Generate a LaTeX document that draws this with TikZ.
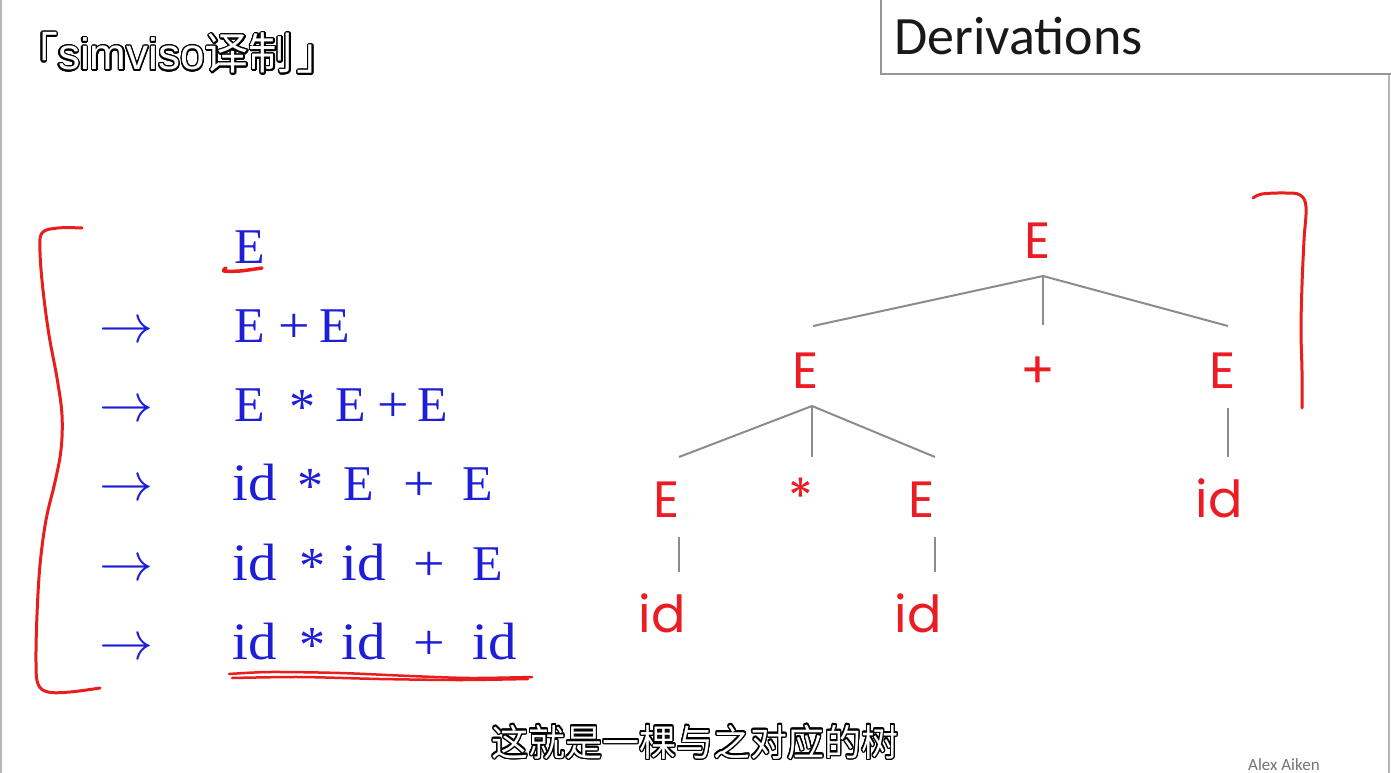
\documentclass[tikz,border=0pt]{standalone}
\usepackage{fontspec}
\usepackage{contour}
\usetikzlibrary{calc}
\setmainfont{Liberation Serif}
\newfontfamily\cjkfont{Noto Sans CJK SC}
\newfontfamily\latinsans{Liberation Sans}
\newfontfamily\treefont{Poppins}
\newfontfamily\slidefont{Carlito}
\definecolor{derivblue}{RGB}{30,30,215}
\definecolor{treered}{RGB}{237,28,36}
\definecolor{inkred}{RGB}{232,30,30}
\definecolor{edgegray}{RGB}{140,140,140}
\definecolor{framegray}{RGB}{150,150,150}
\contourlength{1.3pt}
\contournumber{24}
% a token that occupies a slot of fixed width
\newcommand\tok[2]{\makebox[#1pt][l]{#2}}
% centred multiplication asterisk
\newcommand\mulsym{\raisebox{-3pt}{\fontsize{52}{52}\selectfont *}}
% the identifier token, set slightly wide
\newcommand\idtok{\scalebox{1.14}[1.05]{id}}
\newcommand\plustok{\scalebox{1.12}[1]{+}}
% derivation arrow
\newcommand\derivarrow{\scalebox{5.4}{$\rightarrow$}}
\tikzset{
  rowtext/.style={anchor=base west, inner sep=0pt, text=derivblue,
    font=\fontsize{50}{50}\selectfont},
  arrowtok/.style={anchor=base west, inner sep=0pt, text=derivblue},
  treenode/.style={anchor=base, inner sep=0pt, text=treered,
    font=\treefont\fontsize{51}{51}\selectfont},
  treeedge/.style={draw=edgegray, line width=2pt},
  marker/.style={draw=inkred, line width=3pt, line cap=round, line join=round},
  outlined/.style={inner sep=0pt},
}
\begin{document}
\begin{tikzpicture}[x=1pt,y=-1pt]
\useasboundingbox (0,0) rectangle (1391,773);
\fill[white] (0,0) rectangle (1391,773);

% slide frame and heading box
\draw[framegray!70, line width=1.5pt] (1,0) -- (1,773);
\draw[framegray!70, line width=1.5pt] (1389,74) -- (1389,773);
\draw[framegray, line width=2pt] (881,0) -- (881,74) -- (1391,74);
\node[anchor=base west, inner sep=0pt, text=black!90,
  font=\slidefont\fontsize{54}{54}\selectfont] (heading) at (894,55) {Derivations};

% outlined title
\node[outlined, anchor=base west] (title) at (14,70)
  {\fontsize{44}{44}\selectfont\contour{black}{\color{white}{\cjkfont 「}{\latinsans simviso}{\cjkfont 译制\hspace{4pt}」}}};

% derivation sequence
\node[rowtext] (r1) at (234,263) {E};
\node[rowtext] (r2) at (234,342) {\tok{44}{E}\tok{41}{\plustok}E};
\node[rowtext] (r3) at (234,421) {\tok{55}{E}\tok{46}{\mulsym}\tok{42}{E}\tok{40}{\plustok}E};
\node[rowtext] (r4) at (232,500) {\tok{65}{\idtok}\tok{46}{\mulsym}\tok{60}{E}\tok{59}{\plustok}E};
\node[rowtext] (r5) at (232,580) {\tok{67}{\idtok}\tok{42}{\mulsym}\tok{72}{\idtok}\tok{59}{\plustok}E};
\node[rowtext] (r6) at (232,659) {\tok{67}{\idtok}\tok{42}{\mulsym}\tok{72}{\idtok}\tok{59}{\plustok}\idtok};

\node[arrowtok] (a2) at (99,342) {\derivarrow};
\node[arrowtok] (a3) at (99,421) {\derivarrow};
\node[arrowtok] (a4) at (99,500) {\derivarrow};
\node[arrowtok] (a5) at (99,580) {\derivarrow};
\node[arrowtok] (a6) at (99,659) {\derivarrow};

% hand-drawn marks
\draw[marker] plot[smooth, tension=0.6] coordinates {(82,228) (58,228) (42,233) (40,252) (43,290) (49,335) (57,378) (62,415) (61,450) (55,482) (46,520) (40,565) (37,615) (36,662) (38,684) (48,692) (70,692) (100,688)};
\draw[marker] plot[smooth, tension=0.6] coordinates {(1253,198) (1262,194) (1285,193) (1300,195) (1306,207) (1304,240) (1302,285) (1301,330) (1302,372) (1302,408)};
\draw[marker, line width=3.5pt] plot[smooth] coordinates {(226,268) (224,271) (240,271) (262,268)};
\draw[marker, line width=2.5pt] plot[smooth] coordinates {(229,674) (270,672) (340,673) (410,676) (470,678) (532,677)};
\draw[marker, line width=2.5pt] plot[smooth] coordinates {(232,678) (300,677) (380,679) (460,680) (528,679)};

% parse tree
\node[treenode] (root) at (1038,258) {E};
\node[treenode] (eL) at (806,388) {E};
\node[treenode] (plus) at (1038,388) {+};
\node[treenode] (eR) at (1223,388) {E};
\node[treenode] (eLL) at (667,517) {E};
\node[treenode] (star) at (801,515) {*};
\node[treenode] (eLR) at (922,517) {E};
\node[treenode] (idR) at (1219,517) {id};
\node[treenode] (idLL) at (662,632) {id};
\node[treenode] (idLR) at (918,632) {id};

\draw[treeedge] ($(root.base)+(5,18)$) -- ($(eL.base)+(7,-62)$);
\draw[treeedge] ($(root.base)+(5,18)$) -- ($(plus.base)+(5,-63)$);
\draw[treeedge] ($(root.base)+(5,18)$) -- ($(eR.base)+(5,-62)$);
\draw[treeedge] ($(eL.base)+(6,18)$) -- ($(eLL.base)+(12,-60)$);
\draw[treeedge] ($(eL.base)+(6,18)$) -- ($(star.base)+(11,-58)$);
\draw[treeedge] ($(eL.base)+(6,18)$) -- ($(eLR.base)+(13,-60)$);
\draw[treeedge] ($(eR.base)+(5,20)$) -- ($(idR.base)+(9,-60)$);
\draw[treeedge] ($(eLL.base)+(12,20)$) -- ($(idLL.base)+(17,-60)$);
\draw[treeedge] ($(eLR.base)+(13,20)$) -- ($(idLR.base)+(17,-60)$);

% caption and credit
\node[outlined, anchor=base] (caption) at (695,756)
  {\fontsize{37}{37}\selectfont\contour{black}{\color{white}\cjkfont 这就是一棵与之对应的树}};
\node[anchor=base west, inner sep=0pt, text=black!55,
  font=\slidefont\fontsize{17}{17}\selectfont] (credit) at (1248,770) {Alex Aiken};
\end{tikzpicture}
\end{document}
